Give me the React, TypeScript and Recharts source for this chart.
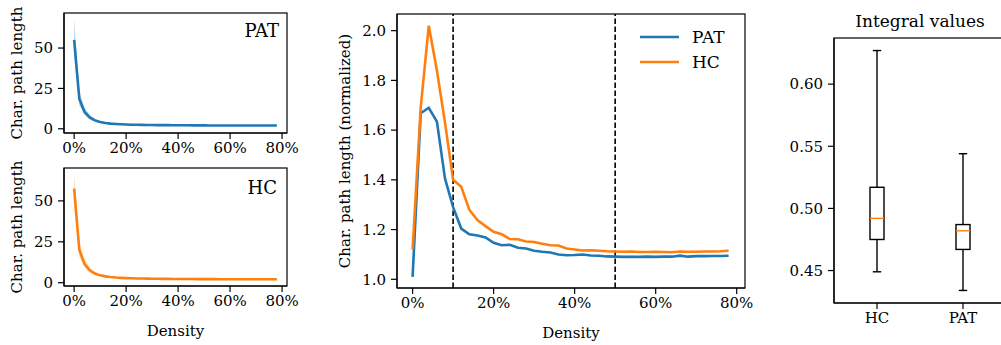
import React from "react";
import {
  ComposedChart,
  LineChart,
  BarChart,
  Line,
  Area,
  Bar,
  XAxis,
  YAxis,
  ReferenceLine,
  Legend,
} from "recharts";

const BLUE = "#1f77b4";
const ORANGE = "#ff7f0e";
const FONT = "DejaVu Serif";

// density steps (%)
const density = [
  0, 2, 4, 6, 8, 10, 12, 14, 16, 18, 20, 22, 24, 26, 28, 30, 32, 34, 36, 38,
  40, 42, 44, 46, 48, 50, 52, 54, 56, 58, 60, 62, 64, 66, 68, 70, 72, 74, 76, 78,
];

// raw characteristic path length, PAT
const patRaw = [
  55, 18.5, 10.5, 7.0, 5.2, 4.2, 3.6, 3.2, 3.0, 2.8, 2.65, 2.55, 2.5, 2.45, 2.4,
  2.35, 2.3, 2.28, 2.25, 2.22, 2.2, 2.18, 2.16, 2.14, 2.12, 2.1, 2.09, 2.08,
  2.07, 2.06, 2.05, 2.04, 2.03, 2.02, 2.02, 2.01, 2.01, 2.0, 2.0, 2.0,
];
const patLow = [
  45, 14.5, 8.5, 5.8, 4.4, 3.6, 3.1, 2.8, 2.6, 2.45, 2.35, 2.27, 2.22, 2.18,
  2.14, 2.1, 2.06, 2.04, 2.02, 2.0, 1.98, 1.96, 1.95, 1.93, 1.92, 1.9, 1.89,
  1.88, 1.87, 1.86, 1.86, 1.85, 1.84, 1.84, 1.83, 1.83, 1.82, 1.82, 1.82, 1.82,
];
const patHigh = [
  68, 23, 13, 8.6, 6.2, 4.9, 4.2, 3.7, 3.45, 3.2, 3.0, 2.88, 2.82, 2.75, 2.7,
  2.64, 2.58, 2.55, 2.5, 2.46, 2.44, 2.42, 2.39, 2.37, 2.34, 2.32, 2.3, 2.29,
  2.28, 2.27, 2.25, 2.24, 2.23, 2.22, 2.22, 2.2, 2.2, 2.19, 2.19, 2.19,
];

// raw characteristic path length, HC
const hcRaw = [
  57.5, 20, 11.5, 7.6, 5.6, 4.5, 3.9, 3.45, 3.15, 2.95, 2.8, 2.7, 2.62, 2.55,
  2.5, 2.45, 2.41, 2.38, 2.35, 2.32, 2.3, 2.28, 2.26, 2.24, 2.22, 2.2, 2.19,
  2.18, 2.17, 2.16, 2.15, 2.14, 2.13, 2.13, 2.12, 2.12, 2.11, 2.11, 2.11, 2.11,
];
const hcLow = [
  48, 16, 9.3, 6.3, 4.7, 3.9, 3.35, 3.0, 2.75, 2.6, 2.48, 2.4, 2.34, 2.28,
  2.24, 2.2, 2.16, 2.14, 2.11, 2.09, 2.07, 2.05, 2.04, 2.02, 2.0, 1.99, 1.98,
  1.97, 1.96, 1.95, 1.94, 1.93, 1.93, 1.92, 1.92, 1.91, 1.91, 1.9, 1.9, 1.9,
];
const hcHigh = [
  67, 24.5, 14, 9.1, 6.6, 5.2, 4.5, 3.95, 3.6, 3.35, 3.15, 3.02, 2.92, 2.84,
  2.78, 2.72, 2.68, 2.64, 2.6, 2.57, 2.54, 2.52, 2.49, 2.47, 2.45, 2.42, 2.41,
  2.4, 2.39, 2.38, 2.37, 2.36, 2.35, 2.35, 2.34, 2.34, 2.33, 2.33, 2.33, 2.33,
];

// normalized characteristic path length
const patNorm = [
  1.01, 1.668, 1.69, 1.634, 1.405, 1.29, 1.204, 1.181, 1.176, 1.168, 1.147,
  1.137, 1.139, 1.127, 1.124, 1.115, 1.111, 1.108, 1.1, 1.097, 1.098, 1.1,
  1.096, 1.095, 1.092, 1.091, 1.09, 1.09, 1.09, 1.091, 1.09, 1.091, 1.091,
  1.095, 1.091, 1.093, 1.093, 1.094, 1.094, 1.095,
];
const hcNorm = [
  1.12, 1.69, 2.02, 1.84, 1.63, 1.4, 1.372, 1.28, 1.238, 1.214, 1.191, 1.181,
  1.162, 1.161, 1.152, 1.15, 1.143, 1.137, 1.136, 1.124, 1.12, 1.116, 1.117,
  1.115, 1.113, 1.112, 1.111, 1.112, 1.11, 1.11, 1.111, 1.11, 1.109, 1.112,
  1.111, 1.111, 1.112, 1.112, 1.113, 1.115,
];

// integral values box plot
const boxGroups = ["HC", "PAT"];
const boxMin = [0.449, 0.434];
const boxQ1 = [0.475, 0.467];
const boxMedian = [0.492, 0.482];
const boxQ3 = [0.517, 0.487];
const boxMax = [0.627, 0.544];

const densityTicks = [0, 20, 40, 60, 80];

const patRows = density.map((d, i) => ({
  density: d,
  mean: patRaw[i],
  band: [patLow[i], patHigh[i]],
}));
const hcRows = density.map((d, i) => ({
  density: d,
  mean: hcRaw[i],
  band: [hcLow[i], hcHigh[i]],
}));
const normRows = density.map((d, i) => ({
  density: d,
  PAT: patNorm[i],
  HC: hcNorm[i],
}));
const boxRows = boxGroups.map((g, i) => ({
  name: g,
  min: boxMin[i],
  q1: boxQ1[i],
  median: boxMedian[i],
  q3: boxQ3[i],
  max: boxMax[i],
}));

const tickStyle = { fontSize: 15, fill: "#000", fontFamily: FONT };
const axisLine = { stroke: "#000", strokeWidth: 1.2 };
const tickLine = { stroke: "#000", strokeWidth: 1.2 };

// plot frames (matplotlib style box around each axes)
const frames = [
  { x: 64, y: 13, w: 223, h: 120 },
  { x: 64, y: 168, w: 223, h: 118 },
  { x: 397, y: 14, w: 348, h: 274 },
  { x: 834, y: 38, w: 172, h: 265 },
];

function SmallPanel({ rows, color, yDomain, height, top, marginTop, xAxisHeight, showXLabel }: any) {
  return (
    <div style={{ position: "absolute", left: 0, top, width: 300, height }}>
      <ComposedChart
        width={300}
        height={height}
        data={rows}
        margin={{ top: marginTop, right: 13, left: 0, bottom: 0 }}
      >
        <XAxis
          dataKey="density"
          type="number"
          domain={[-3.9, 81.9]}
          allowDataOverflow
          ticks={densityTicks}
          tickFormatter={(v) => `${v}%`}
          tick={tickStyle}
          tickSize={6}
          tickMargin={3}
          axisLine={axisLine}
          tickLine={tickLine}
          height={xAxisHeight}
          interval={0}
          label={
            showXLabel
              ? { value: "Density", position: "insideBottom", offset: 9, style: { fontSize: 15, fill: "#000", fontFamily: FONT } }
              : undefined
          }
        />
        <YAxis
          type="number"
          domain={yDomain}
          allowDataOverflow
          ticks={[0, 25, 50]}
          tick={tickStyle}
          tickSize={6}
          tickMargin={5}
          width={64}
          axisLine={axisLine}
          tickLine={tickLine}
          label={{
            value: "Char. path length",
            angle: -90,
            position: "insideLeft",
            offset: 17,
            style: { textAnchor: "middle", fontSize: 15, fill: "#000", fontFamily: FONT },
          }}
        />
        <Area
          dataKey="band"
          stroke="none"
          fill={color}
          fillOpacity={0.3}
          isAnimationActive={false}
        />
        <Line
          dataKey="mean"
          stroke={color}
          strokeWidth={2.6}
          dot={false}
          type="linear"
          isAnimationActive={false}
        />
      </ComposedChart>
    </div>
  );
}

function NormLegend() {
  const items = [
    { name: "PAT", color: BLUE },
    { name: "HC", color: ORANGE },
  ];
  return (
    <div style={{ fontFamily: FONT, fontSize: 17 }}>
      {items.map((it) => (
        <div key={it.name} style={{ display: "flex", alignItems: "center", height: 25.3 }}>
          <svg width={39} height={6}>
            <line x1={0} y1={3} x2={39} y2={3} stroke={it.color} strokeWidth={2.6} />
          </svg>
          <span style={{ marginLeft: 13 }}>{it.name}</span>
        </div>
      ))}
    </div>
  );
}

function BoxShape(props: any) {
  const { x, y, width, height, payload } = props;
  if (payload == null) return null;
  const top = Math.min(y, y + height);
  const h = Math.abs(height);
  const span = payload.max - payload.min;
  const py = (v: number) => top + (h * (payload.max - v)) / span;
  const cx = x + width / 2;
  const cap = width * 0.3;
  return (
    <g>
      <line x1={cx} x2={cx} y1={py(payload.max)} y2={py(payload.q3)} stroke="#000" strokeWidth={1.4} />
      <line x1={cx} x2={cx} y1={py(payload.q1)} y2={py(payload.min)} stroke="#000" strokeWidth={1.4} />
      <line x1={cx - cap} x2={cx + cap} y1={py(payload.max)} y2={py(payload.max)} stroke="#000" strokeWidth={1.4} />
      <line x1={cx - cap} x2={cx + cap} y1={py(payload.min)} y2={py(payload.min)} stroke="#000" strokeWidth={1.4} />
      <rect
        x={x}
        y={py(payload.q3)}
        width={width}
        height={py(payload.q1) - py(payload.q3)}
        fill="none"
        stroke="#000"
        strokeWidth={1.4}
      />
      <line x1={x} x2={x + width} y1={py(payload.median)} y2={py(payload.median)} stroke={ORANGE} strokeWidth={1.4} />
    </g>
  );
}

export default function App() {
  return (
    <div
      style={{
        position: "fixed",
        left: 0,
        top: 0,
        width: 1001,
        height: 345,
        overflow: "hidden",
        background: "#fff",
        fontFamily: FONT,
      }}
    >
      <style>{`svg text { font-family: "DejaVu Serif", serif; }`}</style>
      <SmallPanel rows={patRows} color={BLUE} yDomain={[-2.6, 71.7]} height={160} top={0} marginTop={13} xAxisHeight={27} showXLabel={false} />
      <SmallPanel rows={hcRows} color={ORANGE} yDomain={[-2.0, 70.1]} height={195} top={150} marginTop={18} xAxisHeight={59} showXLabel />
      <div style={{ position: "absolute", left: 0, width: 279, top: 22, textAlign: "right", fontSize: 18, lineHeight: "18px" }}>PAT</div>
      <div style={{ position: "absolute", left: 0, width: 277, top: 179, textAlign: "right", fontSize: 18, lineHeight: "18px" }}>HC</div>

      <div style={{ position: "absolute", left: 320, top: 0, width: 440, height: 345 }}>
        <LineChart width={440} height={345} data={normRows} margin={{ top: 14, right: 15, left: 0, bottom: 0 }}>
          <XAxis
            dataKey="density"
            type="number"
            domain={[-3.85, 82.05]}
            allowDataOverflow
            ticks={densityTicks}
            tickFormatter={(v) => `${v}%`}
            tick={tickStyle}
            tickSize={6}
            tickMargin={3}
            axisLine={axisLine}
            tickLine={tickLine}
            height={57}
            interval={0}
            label={{ value: "Density", position: "insideBottom", offset: 7, style: { fontSize: 15, fill: "#000", fontFamily: FONT } }}
          />
          <YAxis
            type="number"
            domain={[0.965, 2.067]}
            allowDataOverflow
            ticks={[1.0, 1.2, 1.4, 1.6, 1.8, 2.0]}
            tickFormatter={(v) => v.toFixed(1)}
            tick={tickStyle}
            tickSize={6}
            tickMargin={5}
            width={77}
            axisLine={axisLine}
            tickLine={tickLine}
            label={{
              value: "Char. path length (normalized)",
              angle: -90,
              position: "insideLeft",
              offset: 25,
              style: { textAnchor: "middle", fontSize: 15, fill: "#000", fontFamily: FONT },
            }}
          />
          <ReferenceLine x={10} stroke="#000" strokeWidth={1.6} strokeDasharray="5.5 2.5" />
          <ReferenceLine x={50} stroke="#000" strokeWidth={1.6} strokeDasharray="5.5 2.5" />
          <Line dataKey="PAT" stroke={BLUE} strokeWidth={2.6} dot={false} type="linear" isAnimationActive={false} />
          <Line dataKey="HC" stroke={ORANGE} strokeWidth={2.6} dot={false} type="linear" isAnimationActive={false} />
          <Legend
            layout="vertical"
            align="center"
            verticalAlign="middle"
            content={() => <NormLegend />}
            wrapperStyle={{ left: 320, top: 24, width: 110, height: 52 }}
          />
        </LineChart>
      </div>

      <div style={{ position: "absolute", left: 834, width: 172, top: 13, textAlign: "center", fontSize: 17, lineHeight: "17px" }}>
        Integral values
      </div>
      <div style={{ position: "absolute", left: 770, top: 0, width: 240, height: 345 }}>
        <BarChart width={240} height={345} data={boxRows} margin={{ top: 38, right: 4, left: 0, bottom: 0 }}>
          <XAxis
            dataKey="name"
            type="category"
            tick={tickStyle}
            tickSize={6}
            tickMargin={3}
            axisLine={axisLine}
            tickLine={tickLine}
            height={42}
            interval={0}
          />
          <YAxis
            type="number"
            domain={[0.4239, 0.6371]}
            allowDataOverflow
            ticks={[0.45, 0.5, 0.55, 0.6]}
            tickFormatter={(v) => v.toFixed(2)}
            tick={tickStyle}
            tickSize={6}
            tickMargin={5}
            width={64}
            axisLine={axisLine}
            tickLine={tickLine}
          />
          <Bar
            dataKey={(d: any) => [d.min, d.max]}
            barSize={14}
            shape={<BoxShape />}
            isAnimationActive={false}
          />
        </BarChart>
      </div>

      <svg
        width={1001}
        height={345}
        style={{ position: "absolute", left: 0, top: 0, pointerEvents: "none" }}
      >
        {frames.map((f, i) => (
          <rect key={i} x={f.x} y={f.y} width={f.w} height={f.h} fill="none" stroke="#000" strokeWidth={1.2} />
        ))}
      </svg>
    </div>
  );
}
